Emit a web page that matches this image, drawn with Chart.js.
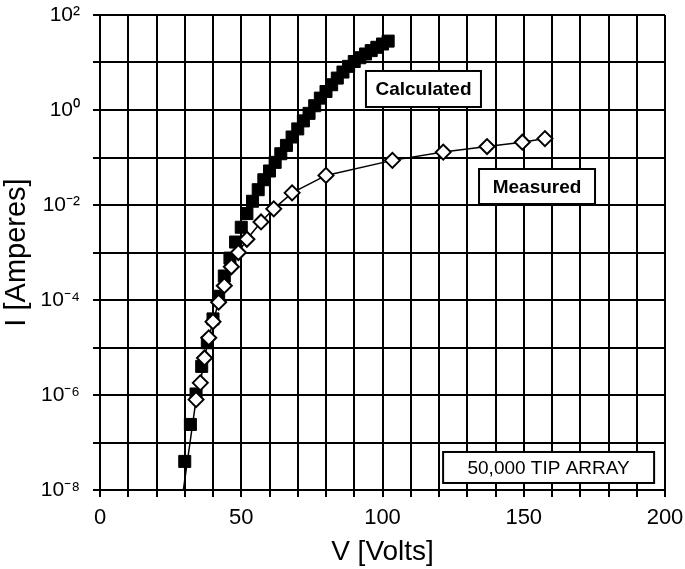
<!DOCTYPE html>
<html>
<head>
<meta charset="utf-8">
<script src="https://cdn.jsdelivr.net/npm/chart.js@4"></script>
<style>
  html, body { margin: 0; padding: 0; background: #fff; }
  #wrap { width: 685px; height: 569px; }
</style>
</head>
<body>
<div id="wrap"><canvas id="ivChart" width="685" height="569"></canvas></div>
<script>
// calculated I-V (filled squares)
const calcVolts = [30, 32, 34, 36, 38, 40, 42, 44, 46, 48, 50, 52, 54, 56, 58, 60, 62, 64, 66, 68,
  70, 72, 74, 76, 78, 80, 82, 84, 86, 88, 90, 92, 94, 96, 98, 100, 102];
const calcAmps = [4.0e-8, 2.4e-7, 1.05e-6, 4.0e-6, 1.26e-5, 4.0e-5, 1.2e-4, 3.2e-4, 7.6e-4, 1.66e-3,
  3.4e-3, 6.6e-3, 1.2e-2, 2.1e-2, 3.4e-2, 5.2e-2, 7.9e-2, 0.12, 0.18, 0.27,
  0.40, 0.59, 0.85, 1.23, 1.78, 2.45, 3.4, 4.7, 6.3, 8.3, 10.5, 12.6, 15.1, 17.8, 20.9, 24.5, 28.2];

// measured I-V (open diamonds); first point is only where the line leaves the axis
const measVolts = [29.5, 34, 35.5, 37, 38.5, 40, 42, 44, 46.5, 49, 52, 57, 61.5, 68, 80,
  103.5, 121.5, 137, 149.5, 157.5];
const measAmps = [1e-8, 8e-7, 1.8e-6, 6e-6, 1.6e-5, 3.5e-5, 9e-5, 2e-4, 5e-4, 1e-3, 1.9e-3,
  4.4e-3, 8.3e-3, 1.8e-2, 4.2e-2, 8.7e-2, 0.13, 0.17, 0.21, 0.25];

const xTickLabels = [0, 50, 100, 150, 200];
const yDecades = [-8, -7, -6, -5, -4, -3, -2, -1, 0, 1, 2];
const yLabelDecades = [-8, -6, -4, -2, 0, 2];

const FONT = "'Liberation Sans', Arial, sans-serif";
const sup = {'-': '\u207B', '0': '\u2070', '2': '\u00B2', '4': '\u2074', '6': '\u2076', '8': '\u2078'};
function powLabel(e) {
  return '10' + String(e).split('').map(c => sup[c]).join('');
}

const calcPts = calcVolts.map((v, i) => ({x: v, y: calcAmps[i]}));
const measPts = measVolts.map((v, i) => ({x: v, y: measAmps[i]}));

// boxed notes, centred at data coordinates
const notes = [
  {text: 'Calculated', x: 114.5, y: 2.77, w: 115, h: 36, bold: true, size: 19},
  {text: 'Measured', x: 154.7, y: 0.0245, w: 116, h: 35, bold: true, size: 19},
  {text: '50,000 TIP ARRAY', x: 158.8, y: 2.98e-8, w: 211, h: 31, bold: false, size: 19}
];

const notesPlugin = {
  id: 'notes',
  afterDatasetsDraw(chart) {
    const {ctx, scales} = chart;
    ctx.save();
    notes.forEach(n => {
      const cx = scales.x.getPixelForValue(n.x);
      const cy = scales.y.getPixelForValue(n.y);
      ctx.fillStyle = '#fff';
      ctx.fillRect(cx - n.w / 2, cy - n.h / 2, n.w, n.h);
      ctx.lineWidth = 2;
      ctx.strokeStyle = '#000';
      ctx.strokeRect(cx - n.w / 2, cy - n.h / 2, n.w, n.h);
      ctx.fillStyle = '#000';
      ctx.font = (n.bold ? 'bold ' : '') + n.size + 'px ' + FONT;
      ctx.textAlign = 'center';
      ctx.textBaseline = 'middle';
      ctx.fillText(n.text, cx, cy + 1);
    });
    ctx.restore();
  }
};

new Chart(document.getElementById('ivChart'), {
  type: 'scatter',
  data: {
    datasets: [{
      label: 'Measured',
      data: measPts,
      showLine: true,
      borderColor: '#000',
      borderWidth: 1.5,
      pointStyle: 'rectRot',
      pointRadius: measPts.map((p, i) => i === 0 ? 0 : 7.5),
      pointBackgroundColor: '#fff',
      pointBorderColor: '#000',
      pointBorderWidth: 2,
      order: 0
    }, {
      label: 'Calculated',
      data: calcPts,
      showLine: false,
      pointStyle: 'rect',
      pointRadius: 8.5,
      pointBackgroundColor: '#000',
      pointBorderColor: '#000',
      pointBorderWidth: 1,
      order: 1
    }]
  },
  options: {
    responsive: false,
    animation: false,
    layout: {padding: {top: 15, right: 20, left: 0, bottom: 0}},
    plugins: {legend: {display: false}, tooltip: {enabled: false}},
    scales: {
      x: {
        type: 'linear',
        min: 0,
        max: 200,
        ticks: {
          stepSize: 10,
          autoSkip: false,
          maxRotation: 0,
          padding: 8,
          color: '#000',
          font: {family: FONT, size: 22},
          callback: v => xTickLabels.includes(v) ? String(v) : ''
        },
        grid: {color: '#000', lineWidth: 2, tickLength: 7, tickColor: '#000'},
        border: {color: '#000', width: 2},
        title: {display: true, text: 'V [Volts]', color: '#000', font: {family: FONT, size: 28}, padding: {top: 0, bottom: 0}},
        afterFit: s => { s.height = 79; s.paddingLeft = 0; s.paddingRight = 0; }
      },
      y: {
        type: 'logarithmic',
        min: 1e-8,
        max: 1e2,
        afterBuildTicks: s => { s.ticks = yDecades.map(e => ({value: Math.pow(10, e)})); },
        ticks: {
          autoSkip: false,
          padding: 13,
          color: '#000',
          font: {family: FONT, size: 21},
          callback: v => {
            const e = Math.round(Math.log10(v));
            return yLabelDecades.includes(e) ? powLabel(e) : '';
          }
        },
        grid: {color: '#000', lineWidth: 2, tickLength: 7, tickColor: '#000'},
        border: {color: '#000', width: 2},
        title: {display: true, text: 'I [Amperes]', color: '#000', font: {family: FONT, size: 29}, padding: {top: 0, bottom: 0}},
        afterFit: s => { s.width = 100; s.paddingTop = 0; s.paddingBottom = 0; }
      }
    }
  },
  plugins: [notesPlugin]
});
</script>
</body>
</html>
